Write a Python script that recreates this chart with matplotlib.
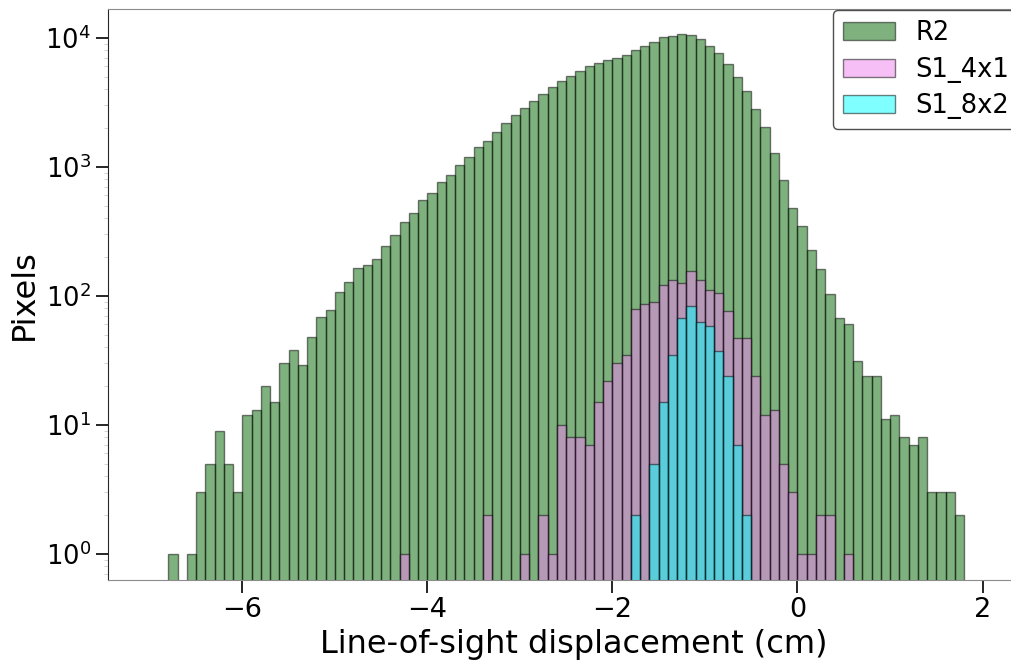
import numpy as np
import matplotlib.pyplot as plt

# bin edges (cm), 0.1 cm wide
edge_start = -6.8
bin_width = 0.1
n_bins = 86

# pixel counts per bin
r2 = [1, 0, 1, 3, 5, 9, 5, 3, 12, 13,
      20, 15, 30, 38, 29, 48, 69, 78, 106, 127,
      165, 172, 194, 245, 293, 372, 438, 549, 621, 756,
      861, 1028, 1179, 1417, 1592, 1849, 2194, 2512, 2866, 3236,
      3689, 4169, 4648, 5048, 5483, 5984, 6325, 6767, 6906, 7397,
      8030, 8650, 9333, 10048, 10331, 10700, 10400, 9720, 8590, 7650,
      6235, 4977, 3892, 2825, 2037, 1280, 783, 482, 345, 226,
      160, 103, 67, 60, 31, 24, 24, 11, 12, 8,
      7, 8, 3, 3, 3, 2]

s1_4x1 = [0] * 25 + [1, 0, 0, 0, 0, 0, 0, 0, 0, 2,
                     0, 0, 0, 1, 0, 2, 1, 10, 8, 8,
                     7, 15, 22, 30, 35, 79, 86, 90, 121, 132,
                     126, 156, 132, 111, 105, 76, 47, 47, 24, 12,
                     13, 5, 3, 1, 1, 2, 2, 0, 1] + [0] * 12

s1_8x2 = [0] * 50 + [2, 0, 5, 15, 35, 67, 84, 63, 58, 37,
                     24, 7, 2] + [0] * 23

labels = ['R2', 'S1_4x1', 'S1_8x2']
colors = ['darkgreen', 'violet', 'cyan']

edges = edge_start + bin_width * np.arange(n_bins + 1)
lefts = edges[:-1]

fig = plt.figure(figsize=(10.11, 6.61), dpi=100)
# the original figure is cropped on the right, so the axes run past the edge
ax = fig.add_axes([0.107, 0.123, 0.9216, 0.864])

for counts, lab, col in zip([r2, s1_4x1, s1_8x2], labels, colors):
    ax.hist(lefts, bins=edges, weights=counts, log=True, color=col,
            edgecolor='k', alpha=0.5, linewidth=1, label=lab)

ax.set_yscale('log')
ax.set_ylim(0.63, 16800)
ax.set_xlim(-7.45, 2.62)
ax.set_xticks([-6, -4, -2, 0, 2])

ax.tick_params(axis='x', which='major', labelsize=19.5, length=9, width=1.2)
ax.tick_params(axis='y', which='major', labelsize=18.5, length=9, width=1.2)
ax.tick_params(axis='y', which='minor', length=3, color='0.8')
ax.spines['left'].set_color('0.15')
ax.spines['bottom'].set_color('0.55')
ax.spines['top'].set_color('0.55')
ax.spines['right'].set_visible(False)

ax.set_xlabel('Line-of-sight displacement (cm)', fontsize=23)
ax.set_ylabel('Pixels', fontsize=23)

ax.legend(loc='upper left', fontsize=18.5, bbox_to_anchor=(833 / 1011, 1 - 10 / 661),
          bbox_transform=fig.transFigure, borderaxespad=0, labelspacing=0.4,
          fancybox=True, framealpha=1, edgecolor='0.3', handlelength=2.0)

fig.savefig('out.png', dpi=100)
